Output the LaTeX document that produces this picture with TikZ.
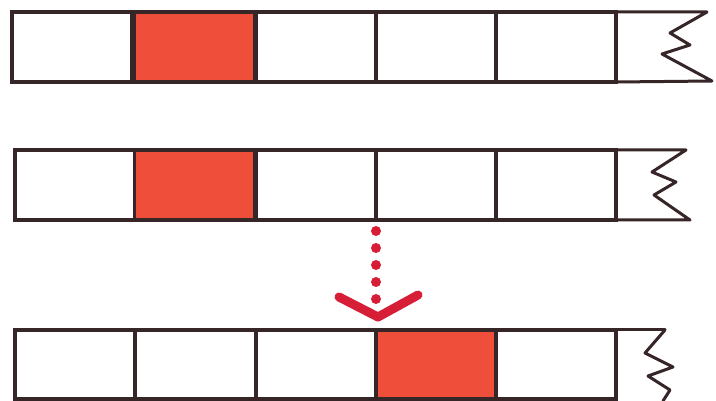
\documentclass[tikz,border=0pt]{standalone}
\usepackage{xcolor}
\usetikzlibrary{calc,arrows.meta}
\definecolor{ink}{RGB}{55,38,40}
\definecolor{mark}{RGB}{238,78,58}
\definecolor{pen}{RGB}{215,30,55}

\begin{document}
\begin{tikzpicture}[x=1pt,y=-1pt,
  cell/.style={draw=ink, line width=3.4pt, minimum width=120pt, minimum height=70pt, inner sep=0pt, outer sep=0pt},
  filled/.style={cell, fill=mark},
  zig/.style={draw=ink, line width=3pt, line join=round, line cap=round}]
\useasboundingbox (0,0) rectangle (716,401);
% row 1
\foreach \i/\x in {1/72,2/194.5,3/316,4/436,5/556}
  \node[cell] (a\i) at (\x,47) {};
\node[filled] (a2) at (194.5,47) {};
\draw[zig] (a5.north east) -- (707,12) -- (670,33) -- (690,45) -- (662,54) -- (712,81) -- (a5.south east);
% row 2
\foreach \i/\x in {1/75,2/194.5,3/316,4/436,5/556}
  \node[cell] (b\i) at (\x,185) {};
\node[filled] (b2) at (194.5,185) {};
\draw[zig] (b5.north east) -- (686,150) -- (652,172) -- (676,182) -- (654,195) -- (690,220) -- (b5.south east);
% row 3
\foreach \i/\x in {1/75,2/195.5,3/316,4/436,5/556}
  \node[cell, minimum height=69pt] (c\i) at (\x,364.5) {};
\node[filled, minimum height=69pt] (c4) at (436,364.5) {};
\coordinate (cend) at (665,330);
\draw[zig] (c5.north east) -- (cend);
\draw[zig] (cend) -- (645,353) -- (673,367) -- (648,376) -- (670,390) -- (663,401);
% dotted arrow
\coordinate (top) at ($(b3.south east)+(0,11)$);
\coordinate (tip) at ($(c3.north east)+(2,-13)$);
\foreach \k in {0,1,2,3,4}
  \fill[pen] ($(top)+(0,17*\k)$) circle (5pt);
\draw[pen, line width=9pt, line cap=round, line join=round] (339,297) -- (tip) -- (418,295);
\end{tikzpicture}
\end{document}
